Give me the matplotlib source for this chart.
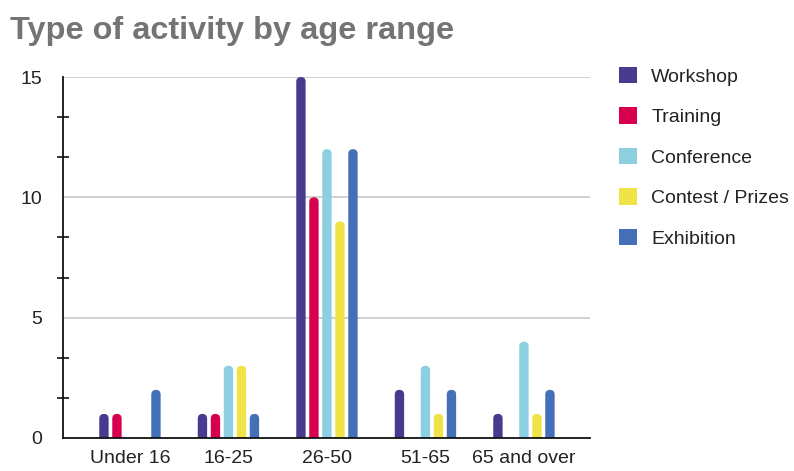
import matplotlib.pyplot as plt
import numpy as np
from matplotlib.patches import FancyBboxPatch, Patch
from matplotlib.ticker import MultipleLocator

plt.rcParams["font.family"] = ["Liberation Sans", "DejaVu Sans"]

age_ranges = ["Under 16", "16-25", "26-50", "51-65", "65 and over"]
activities = ["Workshop", "Training", "Conference", "Contest / Prizes", "Exhibition"]
workshop = [1, 1, 15, 2, 1]
training = [1, 1, 10, 0, 0]
conference = [0, 3, 12, 3, 4]
contest = [0, 3, 9, 1, 1]
exhibition = [2, 1, 12, 2, 2]
series = [workshop, training, conference, contest, exhibition]
colors = ["#483a8e", "#d6004f", "#8ccfe1", "#f0e348", "#4470b8"]

fig = plt.figure(figsize=(7.94, 4.71), dpi=100)
ax = fig.add_axes([0.0793, 0.0701, 0.6637, 0.7664])

x = np.arange(len(age_ranges))
step = 0.132
width = 0.095
xlim = (-0.68, 4.67)
ylim = (0, 15)
ax.set_xlim(*xlim)
ax.set_ylim(*ylim)

# rounded-top bars: box aspect needed so corners come out circular on screen
bbox = ax.get_position()
fig_w, fig_h = fig.get_size_inches()
px_x = (xlim[1] - xlim[0]) / (bbox.width * fig_w)
px_y = (ylim[1] - ylim[0]) / (bbox.height * fig_h)
aspect = px_y / px_x

for i, (vals, c) in enumerate(zip(series, colors)):
    offs = (i - 2) * step
    for xi, v in zip(x, vals):
        if v == 0:
            continue
        p = FancyBboxPatch((xi + offs - width / 2, -0.4), width, v + 0.4,
                           boxstyle=f"round,pad=0,rounding_size={width / 2}",
                           mutation_aspect=aspect, facecolor=c, edgecolor="none",
                           zorder=3)
        ax.add_patch(p)

ax.set_xticks(x)
ax.set_xticklabels(age_ranges)
ax.set_yticks([0, 5, 10, 15])
ax.yaxis.set_minor_locator(MultipleLocator(5 / 3))
ax.tick_params(axis="both", which="major", length=0, labelsize=14, colors="#222222")
ax.tick_params(axis="y", which="major", pad=15)
ax.tick_params(axis="x", which="major", pad=9)
ax.tick_params(axis="y", which="minor", direction="inout", length=8, width=1.2, color="#111111")

for y in [5, 10, 15]:
    ax.axhline(y, color="#c8c8c8", lw=1.2, zorder=1)

for s in ["top", "right"]:
    ax.spines[s].set_visible(False)
for s in ["left", "bottom"]:
    ax.spines[s].set_color("#111111")
    ax.spines[s].set_linewidth(1.3)
    ax.spines[s].set_zorder(4)

fig.text(0.0126, 0.934, "Type of activity by age range", fontsize=23.4,
         fontweight="bold", color="#747474", va="center", ha="left")

handles = [Patch(facecolor=c, edgecolor="none") for c in colors]
fig.legend(handles, activities, loc="upper left", bbox_to_anchor=(0.780, 0.858),
           frameon=False, fontsize=14, handlelength=0.92, handleheight=0.92,
           handletextpad=0.72, labelspacing=1.11, borderpad=0, borderaxespad=0,
           labelcolor="#222222")

fig.savefig("out.png", dpi=100)
